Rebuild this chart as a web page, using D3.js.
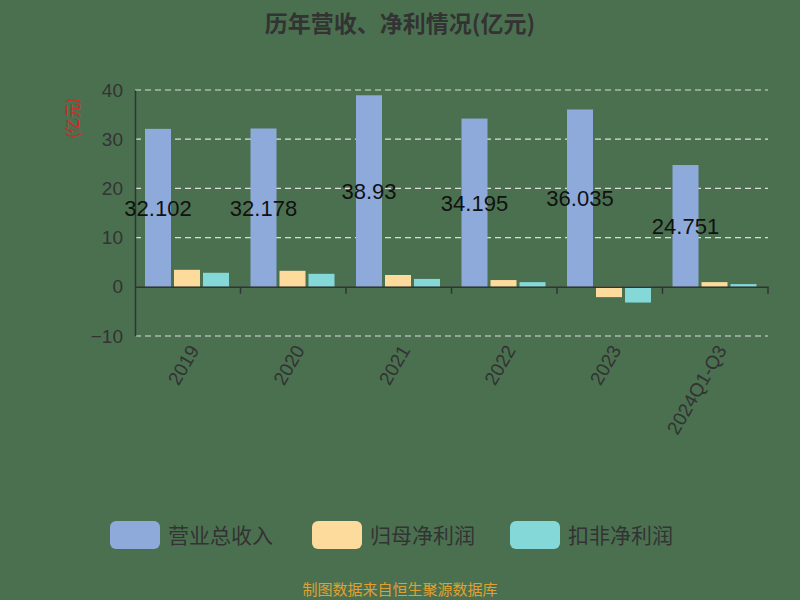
<!DOCTYPE html>
<html><head><meta charset="utf-8">
<script src="https://cdn.jsdelivr.net/npm/d3@7"></script>
<style>body{margin:0;background:#4a7050;}svg{display:block;font-family:"Noto Sans CJK SC","Noto Sans",sans-serif;}</style>
</head><body><div id="chart"></div>
<script>
'use strict';

const categories = ['2019', '2020', '2021', '2022', '2023', '2024Q1-Q3'];
const revenue = [32.102, 32.178, 38.93, 34.195, 36.035, 24.751];
const netProfit = [3.45, 3.25, 2.4, 1.37, -2.1, 0.95];
const deductedProfit = [2.85, 2.64, 1.6, 0.95, -3.2, 0.55];
const seriesNames = ['营业总收入', '归母净利润', '扣非净利润'];
const colors = ['#8eaadb', '#fddb9c', '#84d8d8'];
const yTicks = [-10, 0, 10, 20, 30, 40];

function main() {
    const svg = d3.select('#chart').append('svg').attr('width', 800).attr('height', 600);
    svg.append('rect').attr('width', 800).attr('height', 600).attr('fill', '#4a7050');

    const left = 135, right = 768;
    const x = d3.scaleBand().domain(categories).range([left, right]);
    const y = d3.scaleLinear().domain([-10, 40]).range([336, 90]);

    // Title
    svg.append('text').attr('x', 400).attr('y', 32).attr('text-anchor', 'middle')
        .attr('font-size', 23).attr('font-weight', 'bold').attr('fill', '#333')
        .text('历年营收、净利情况(亿元)');

    // Grid lines
    svg.append('g').selectAll('line').data(yTicks.filter(t => t !== 0)).enter().append('line')
        .attr('x1', left).attr('x2', right).attr('y1', d => y(d)).attr('y2', d => y(d))
        .attr('stroke', '#ddd').attr('stroke-dasharray', '6,4').attr('stroke-width', 1.2);

    // Y axis
    const yAxis = svg.append('g').attr('transform', `translate(${left},0)`)
        .call(d3.axisLeft(y).tickValues(yTicks).tickSize(0).tickPadding(12));
    yAxis.select('.domain').attr('stroke', '#333').attr('stroke-width', 1.5);
    yAxis.selectAll('text').attr('font-size', 19).attr('fill', '#333').attr('font-family', 'Liberation Sans, sans-serif');

    svg.append('text').attr('transform', 'translate(78,118) rotate(-90)').attr('text-anchor', 'middle')
        .attr('font-size', 15).attr('fill', '#d22').text('(亿元)');

    // Bars
    const series = [revenue, netProfit, deductedProfit];
    const bw = 26, gap = 3;
    series.forEach((vals, si) => {
        svg.append('g').selectAll('rect').data(vals).enter().append('rect')
            .attr('x', (d, i) => x(categories[i]) + 10 + si * (bw + gap))
            .attr('y', d => y(Math.max(0, d)))
            .attr('width', bw)
            .attr('height', d => Math.abs(y(d) - y(0)))
            .attr('fill', colors[si]);
    });

    // Revenue labels
    svg.append('g').selectAll('text').data(revenue).enter().append('text')
        .attr('x', (d, i) => x(categories[i]) + 10 + bw / 2)
        .attr('y', d => (y(d) + y(0)) / 2 + 8)
        .attr('text-anchor', 'middle').attr('font-size', 22).attr('fill', '#111')
        .attr('font-family', 'Liberation Sans, sans-serif')
        .text(d => d);

    // X axis at zero
    const xAxis = svg.append('g').attr('transform', `translate(0,${y(0)})`)
        .call(d3.axisBottom(x).tickSize(0).tickFormat(''));
    xAxis.select('.domain').attr('stroke', '#333').attr('stroke-width', 1.5);
    svg.append('g').selectAll('line').data(categories).enter().append('line')
        .attr('x1', d => x(d) + x.bandwidth()).attr('x2', d => x(d) + x.bandwidth())
        .attr('y1', y(0)).attr('y2', y(0) + 7).attr('stroke', '#333').attr('stroke-width', 1.5);

    // X labels
    svg.append('g').selectAll('text').data(categories).enter().append('text')
        .attr('transform', d => `translate(${x(d) + x.bandwidth() / 2 + 12},${350}) rotate(-60)`)
        .attr('text-anchor', 'end').attr('font-size', 19).attr('fill', '#333')
        .attr('font-family', 'Liberation Sans, sans-serif')
        .text(d => d);

    // Legend
    const legendX = [110, 312, 510];
    seriesNames.forEach((name, i) => {
        svg.append('rect').attr('x', legendX[i]).attr('y', 521).attr('width', 50).attr('height', 28)
            .attr('rx', 6).attr('fill', colors[i]);
        svg.append('text').attr('x', legendX[i] + 58).attr('y', 543).attr('font-size', 21)
            .attr('fill', '#333').text(name);
    });

    svg.append('text').attr('x', 400).attr('y', 595).attr('text-anchor', 'middle')
        .attr('font-size', 15).attr('fill', '#e0a030').text('制图数据来自恒生聚源数据库');
}
main();
</script></body></html>
